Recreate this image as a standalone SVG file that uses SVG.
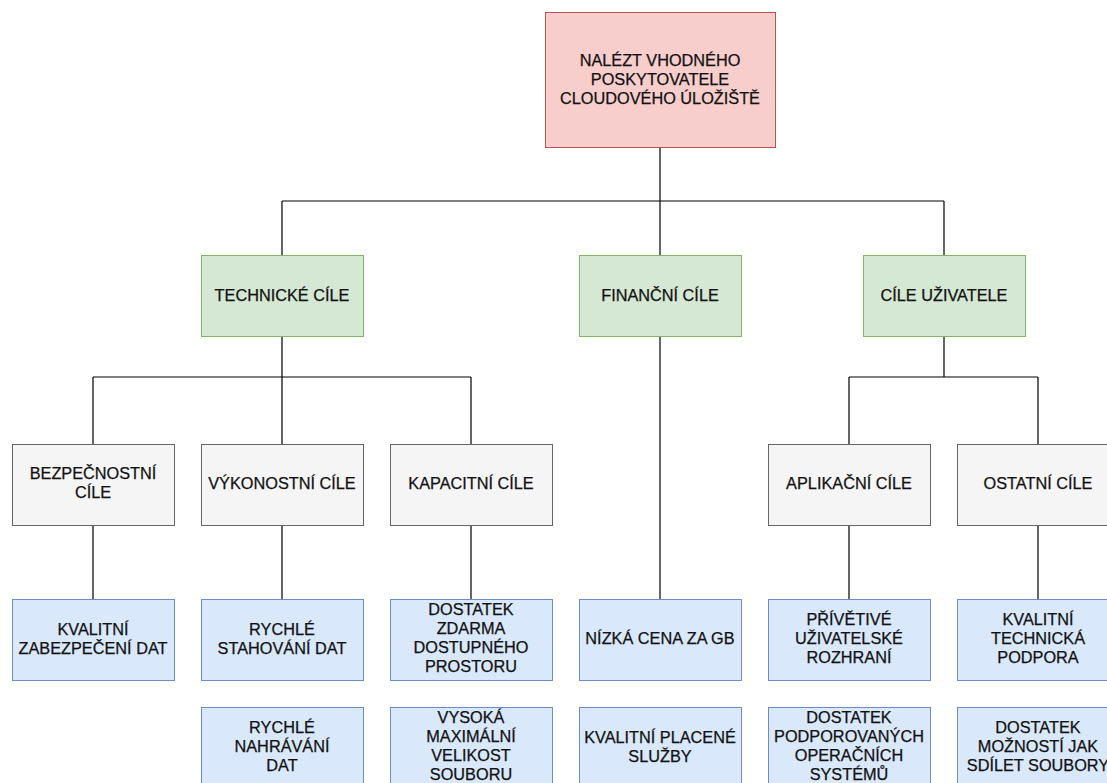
<svg xmlns="http://www.w3.org/2000/svg" width="1107" height="783" viewBox="0 0 1107 783">
<style>
.red{fill:#f8cecc;stroke:#b85450;stroke-width:1}
.green{fill:#d5e8d4;stroke:#82b366;stroke-width:1}
.gray{fill:#f5f5f5;stroke:#666666;stroke-width:1}
.blue{fill:#dae8fc;stroke:#6c8ebf;stroke-width:1}
text{font-family:"Liberation Sans",Arial,sans-serif;font-size:16.3px;fill:#111;text-anchor:middle;stroke:#111;stroke-width:0.25}
.conn{fill:none;stroke:#000;stroke-width:1.2}
</style>
<rect width="1107" height="783" fill="#fff"/>
<g id="connectors">
<path class="conn" d="M660 147V201M282 201H944M282 201V255M660 201V255M944 201V255"/>
<path class="conn" d="M282 336V377M93 377H471M93 377V444M282 377V444M471 377V444"/>
<path class="conn" d="M944 336V377M849 377H1038M849 377V444M1038 377V444"/>
<path class="conn" d="M660 336V599"/>
<path class="conn" d="M93 525V599M282 525V599M471 525V599M849 525V599M1038 525V599"/>
</g>
<g id="root"><rect class="red" x="545.5" y="12.5" width="230" height="135"/>
<text x="660" y="66">NALÉZT VHODNÉHO</text><text x="660" y="85">POSKYTOVATELE</text><text x="660" y="104">CLOUDOVÉHO ÚLOŽIŠTĚ</text></g>
<g id="technicke"><rect class="green" x="201.5" y="255.5" width="162" height="81"/><text x="282" y="301">TECHNICKÉ CÍLE</text></g>
<g id="financni"><rect class="green" x="579.5" y="255.5" width="162" height="81"/><text x="660" y="301">FINANČNÍ CÍLE</text></g>
<g id="uzivatele"><rect class="green" x="863.5" y="255.5" width="162" height="81"/><text x="944" y="301">CÍLE UŽIVATELE</text></g>
<g id="bezpecnostni"><rect class="gray" x="12.5" y="444.5" width="162" height="81"/><text x="93" y="479">BEZPEČNOSTNÍ</text><text x="93" y="498">CÍLE</text></g>
<g id="vykonostni"><rect class="gray" x="201.5" y="444.5" width="162" height="81"/><text x="282" y="489">VÝKONOSTNÍ CÍLE</text></g>
<g id="kapacitni"><rect class="gray" x="390.5" y="444.5" width="162" height="81"/><text x="471" y="489">KAPACITNÍ CÍLE</text></g>
<g id="aplikacni"><rect class="gray" x="768.5" y="444.5" width="162" height="81"/><text x="849" y="489">APLIKAČNÍ CÍLE</text></g>
<g id="ostatni"><rect class="gray" x="957.5" y="444.5" width="162" height="81"/><text x="1038" y="489">OSTATNÍ CÍLE</text></g>
<g id="zabezpeceni"><rect class="blue" x="12.5" y="599.5" width="162" height="81"/><text x="93" y="635">KVALITNÍ</text><text x="93" y="654">ZABEZPEČENÍ DAT</text></g>
<g id="stahovani"><rect class="blue" x="201.5" y="599.5" width="162" height="81"/><text x="282" y="635">RYCHLÉ</text><text x="282" y="654">STAHOVÁNÍ DAT</text></g>
<g id="zdarma"><rect class="blue" x="390.5" y="599.5" width="162" height="81"/><text x="471" y="615">DOSTATEK</text><text x="471" y="634">ZDARMA</text><text x="471" y="653">DOSTUPNÉHO</text><text x="471" y="672">PROSTORU</text></g>
<g id="cena"><rect class="blue" x="579.5" y="599.5" width="162" height="81"/><text x="660" y="644">NÍZKÁ CENA ZA GB</text></g>
<g id="privetive"><rect class="blue" x="768.5" y="599.5" width="162" height="81"/><text x="849" y="625">PŘÍVĚTIVÉ</text><text x="849" y="644">UŽIVATELSKÉ</text><text x="849" y="663">ROZHRANÍ</text></g>
<g id="podpora"><rect class="blue" x="957.5" y="599.5" width="162" height="81"/><text x="1038" y="625">KVALITNÍ</text><text x="1038" y="644">TECHNICKÁ</text><text x="1038" y="663">PODPORA</text></g>
<g id="nahravani"><rect class="blue" x="201.5" y="707.5" width="162" height="81"/><text x="282" y="733">RYCHLÉ</text><text x="282" y="752">NAHRÁVÁNÍ</text><text x="282" y="771">DAT</text></g>
<g id="velikost"><rect class="blue" x="390.5" y="707.5" width="162" height="81"/><text x="471" y="723">VYSOKÁ</text><text x="471" y="742">MAXIMÁLNÍ</text><text x="471" y="761">VELIKOST</text><text x="471" y="780">SOUBORU</text></g>
<g id="placene"><rect class="blue" x="579.5" y="707.5" width="162" height="81"/><text x="660" y="743">KVALITNÍ PLACENÉ</text><text x="660" y="762">SLUŽBY</text></g>
<g id="systemy"><rect class="blue" x="768.5" y="707.5" width="162" height="81"/><text x="849" y="723">DOSTATEK</text><text x="849" y="742">PODPOROVANÝCH</text><text x="849" y="761">OPERAČNÍCH</text><text x="849" y="780">SYSTÉMŮ</text></g>
<g id="sdileni"><rect class="blue" x="957.5" y="707.5" width="162" height="81"/><text x="1038" y="733">DOSTATEK</text><text x="1038" y="752">MOŽNOSTÍ JAK</text><text x="1038" y="771">SDÍLET SOUBORY</text></g>
</svg>
